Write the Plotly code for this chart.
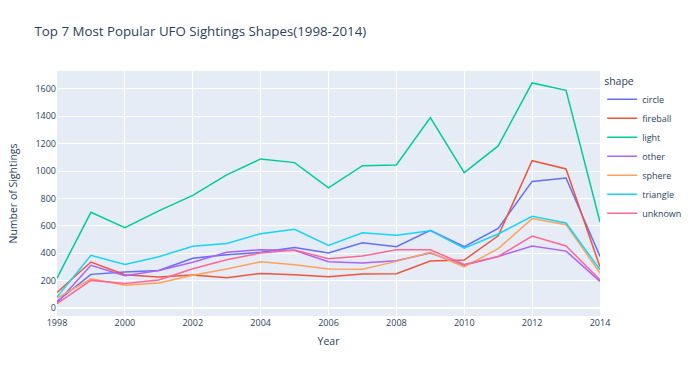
import plotly.graph_objects as go

years = list(range(1998, 2015))
circle   = [49, 246, 263, 275, 363, 390, 407, 443, 402, 477, 448, 567, 448, 582, 925, 950, 377]
fireball = [114, 336, 244, 226, 241, 222, 253, 244, 229, 248, 251, 343, 351, 528, 1076, 1016, 300]
light    = [219, 699, 587, 710, 823, 972, 1089, 1062, 877, 1040, 1045, 1391, 989, 1184, 1644, 1590, 628]
other    = [37, 312, 236, 275, 334, 407, 426, 421, 338, 329, 346, 402, 312, 377, 453, 416, 195]
sphere   = [73, 214, 166, 183, 239, 285, 338, 317, 285, 283, 341, 407, 300, 434, 653, 609, 256]
triangle = [80, 385, 319, 375, 451, 472, 543, 575, 458, 550, 531, 565, 438, 541, 670, 621, 280]
unknown  = [32, 202, 180, 205, 287, 353, 402, 424, 360, 380, 426, 426, 319, 377, 526, 453, 207]

series = [("circle", circle), ("fireball", fireball), ("light", light), ("other", other),
          ("sphere", sphere), ("triangle", triangle), ("unknown", unknown)]
colors = ["#636efa", "#EF553B", "#00cc96", "#ab63fa", "#FFA15A", "#19d3f3", "#FF6692"]

fig = go.Figure()
for (name, vals), c in zip(series, colors):
    fig.add_trace(go.Scatter(x=years, y=vals, mode="lines", name=name,
                             line=dict(color=c, width=1.5)))

fig.update_layout(
    width=690, height=373,
    template="plotly",
    font=dict(family="Open Sans, DejaVu Sans, sans-serif", size=9, color="#2a3f5f"),
    title=dict(text="Top 7 Most Popular UFO Sightings Shapes(1998-2014)",
               font=dict(size=13.3), x=0.05, xanchor="left", y=0.915, yanchor="middle"),
    legend=dict(title=dict(text="shape", font=dict(size=10.5)), font=dict(size=9),
                x=1.004, xanchor="left", y=1, tracegroupgap=0),
    margin=dict(l=57, r=90, t=71, b=57, autoexpand=False),
    xaxis=dict(title=dict(text="Year", font=dict(size=10.5), standoff=9),
               dtick=2, tick0=1998, range=[1998, 2014]),
    yaxis=dict(title=dict(text="Number of Sightings", font=dict(size=10.5)),
               dtick=200, range=[-58, 1731], zeroline=True, zerolinewidth=1.5),
)
fig.write_html("out.html", config={"displayModeBar": False},
               post_script="document.body.style.margin='0';document.body.style.overflow='hidden';")
